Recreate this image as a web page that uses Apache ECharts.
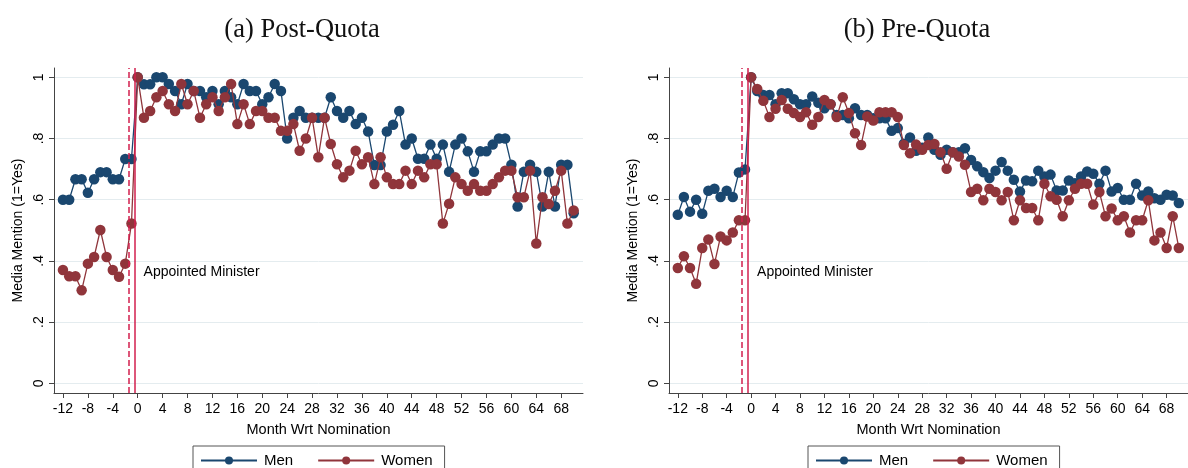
<!DOCTYPE html>
<html><head><meta charset="utf-8">
<script src="https://cdn.jsdelivr.net/npm/echarts@6/dist/echarts.min.js"></script>
<style>html,body{margin:0;padding:0;background:#fff}#c{width:1188px;height:468px}</style>
</head><body><div id="c"></div>
<script>
// ---------- data ----------
const monthStart = -12;
const xTicks = [-12,-8,-4,0,4,8,12,16,20,24,28,32,36,40,44,48,52,56,60,64,68];
const yTicks = [0,0.2,0.4,0.6,0.8,1];
const panelTitles = ['(a) Post-Quota', '(b) Pre-Quota'];
const seriesNames = ['Men', 'Women'];
const xAxisTitle = 'Month Wrt Nomination';
const yAxisTitle = 'Media Mention (1=Yes)';
const markerText = 'Appointed Minister';
const nominationMonth = -1.5;   // dashed line
const appointMonth = -0.5;      // solid line

// Post-Quota, months -12 .. 70
const postMen = [0.60,0.60,0.667,0.667,0.623,0.667,0.69,0.69,0.667,0.667,0.733,0.733,
  1.0,0.977,0.977,1.0,1.0,0.978,0.955,0.912,0.978,0.955,
  0.955,0.935,0.955,0.912,0.955,0.935,0.912,0.978,0.955,0.955,
  0.912,0.935,0.978,0.955,0.80,0.868,0.89,0.868,0.868,0.868,
  0.868,0.935,0.89,0.868,0.89,0.847,0.868,0.823,0.713,0.713,
  0.823,0.845,0.89,0.78,0.80,0.734,0.734,0.78,0.734,0.78,
  0.691,0.78,0.80,0.758,0.691,0.758,0.758,0.78,0.80,0.80,
  0.714,0.578,0.691,0.714,0.691,0.578,0.691,0.578,0.714,0.714,
  0.556];
const postWomen = [0.37,0.35,0.35,0.304,0.391,0.413,0.501,0.413,0.37,0.348,0.391,0.522,
  1.0,0.868,0.89,0.935,0.955,0.912,0.89,0.978,0.912,0.955,
  0.868,0.912,0.935,0.89,0.935,0.978,0.847,0.912,0.847,0.89,
  0.89,0.868,0.868,0.825,0.825,0.847,0.76,0.80,0.868,0.739,
  0.868,0.782,0.716,0.673,0.695,0.76,0.716,0.739,0.651,0.739,
  0.673,0.651,0.651,0.695,0.651,0.695,0.673,0.716,0.716,0.522,
  0.587,0.673,0.651,0.629,0.651,0.629,0.629,0.651,0.673,0.695,
  0.695,0.608,0.608,0.695,0.457,0.608,0.586,0.629,0.695,0.522,
  0.565];
// Pre-Quota, months -12 .. 70
const preMen = [0.551,0.609,0.561,0.60,0.554,0.629,0.636,0.609,0.629,0.609,0.689,0.699,
  1.0,0.955,0.942,0.942,0.912,0.948,0.948,0.928,0.912,0.912,
  0.937,0.917,0.899,0.912,0.877,0.877,0.866,0.899,0.877,0.877,
  0.866,0.866,0.866,0.825,0.834,0.783,0.803,0.76,0.77,0.803,
  0.763,0.747,0.763,0.755,0.755,0.768,0.730,0.709,0.690,0.671,
  0.695,0.723,0.695,0.665,0.627,0.663,0.660,0.695,0.676,0.682,
  0.630,0.630,0.663,0.654,0.676,0.692,0.685,0.652,0.695,0.627,
  0.638,0.60,0.60,0.652,0.614,0.627,0.605,0.60,0.616,0.614,
  0.589];
const preWomen = [0.377,0.415,0.377,0.325,0.442,0.47,0.39,0.48,0.467,0.493,0.533,0.533,
  1.0,0.962,0.923,0.87,0.897,0.926,0.897,0.883,0.87,0.886,
  0.845,0.87,0.926,0.912,0.87,0.935,0.883,0.817,0.779,0.872,
  0.859,0.886,0.886,0.886,0.87,0.779,0.752,0.78,0.763,0.779,
  0.782,0.755,0.701,0.755,0.741,0.714,0.625,0.636,0.598,0.636,
  0.625,0.598,0.625,0.533,0.598,0.573,0.573,0.533,0.652,0.611,
  0.60,0.546,0.598,0.636,0.652,0.652,0.584,0.625,0.546,0.571,
  0.533,0.546,0.493,0.533,0.533,0.598,0.467,0.493,0.442,0.546,
  0.442];

// ---------- styling ----------
const MEN_COLOR = '#1a476f';
const WOMEN_COLOR = '#90353b';
const VLINE_COLOR = '#d21f4e';
const SANS = '"Liberation Sans", Arial, Helvetica, sans-serif';
const SERIF = '"Liberation Serif", "Times New Roman", serif';

const panels = [
  {men: postMen, women: postWomen, gridLeft: 54, titleX: 297, legendLeft: 193},
  {men: preMen, women: preWomen, gridLeft: 669, titleX: 912, legendLeft: 808}
];

const toPairs = arr => arr.map((v, i) => [monthStart + i, v]);
const fmtY = v => (v === 0 ? '0' : v === 1 ? '1' : String(+v.toFixed(1)).replace(/^0\./, '.'));

const option = {
  animation: false,
  backgroundColor: '#ffffff',
  title: panels.map((p, i) => ({
    text: panelTitles[i], left: p.titleX, top: 12, textAlign: 'center',
    textStyle: {fontFamily: SERIF, fontSize: 26.5, fontWeight: 'normal', color: '#111'}
  })),
  legend: panels.map((p, i) => ({
    data: seriesNames.map(n => ({name: n})),
    left: p.legendLeft, top: 446,
    orient: 'horizontal',
    padding: [7, 12, 20, 7],
    itemWidth: 56, itemHeight: 10, itemGap: 24,
    borderColor: '#555', borderWidth: 1, borderRadius: 0,
    selectedMode: false,
    textStyle: {fontFamily: SANS, fontSize: 15, color: '#000', padding: [0, 0, 0, 2]}
  })),
  grid: panels.map(p => ({left: p.gridLeft, top: 68, width: 529, height: 325, containLabel: false})),
  xAxis: panels.map((p, i) => ({
    type: 'value', gridIndex: i, min: -13.44, max: 71.5,
    name: xAxisTitle, nameLocation: 'middle', nameGap: 29,
    nameTextStyle: {fontFamily: SANS, fontSize: 14.5, color: '#000'},
    axisLine: {show: true, onZero: false, lineStyle: {color: '#444', width: 1}},
    axisTick: {show: true, inside: false, length: 5, customValues: xTicks, lineStyle: {color: '#444'}},
    axisLabel: {show: true, customValues: xTicks, margin: 9, fontFamily: SANS, fontSize: 14, color: '#000',
      formatter: v => String(v)},
    splitLine: {show: false}
  })),
  yAxis: panels.map((p, i) => ({
    type: 'value', gridIndex: i, min: -0.0317, max: 1.0304,
    name: yAxisTitle, nameLocation: 'middle', nameGap: 29, nameRotate: 90,
    nameTextStyle: {fontFamily: SANS, fontSize: 14, color: '#000'},
    axisLine: {show: true, onZero: false, lineStyle: {color: '#444', width: 1}},
    axisTick: {show: true, inside: false, length: 5, customValues: yTicks, lineStyle: {color: '#444'}},
    axisLabel: {show: true, customValues: yTicks, rotate: 90, margin: 8, fontFamily: SANS, fontSize: 14, color: '#000',
      formatter: fmtY},
    splitLine: {show: true, lineStyle: {color: '#e4ecef', width: 1}}
  })),
  series: []
};

panels.forEach((p, i) => {
  option.series.push({
    name: seriesNames[0], type: 'line', xAxisIndex: i, yAxisIndex: i,
    data: toPairs(p.men), symbol: 'circle', symbolSize: 10.5, z: 3,
    itemStyle: {color: MEN_COLOR, borderWidth: 0},
    lineStyle: {color: MEN_COLOR, width: 1.3},
    markLine: {
      silent: true, symbol: 'none', label: {show: false},
      data: [
        {xAxis: nominationMonth, lineStyle: {color: VLINE_COLOR, type: [6, 3], width: 1.5}},
        {xAxis: appointMonth, lineStyle: {color: VLINE_COLOR, type: 'solid', width: 1.5}}
      ]
    }
  });
  option.series.push({
    name: seriesNames[1], type: 'line', xAxisIndex: i, yAxisIndex: i,
    data: toPairs(p.women), symbol: 'circle', symbolSize: 10.5, z: 4,
    itemStyle: {color: WOMEN_COLOR, borderWidth: 0},
    lineStyle: {color: WOMEN_COLOR, width: 1.3},
    markPoint: {
      silent: true, symbol: 'circle', symbolSize: 0,
      data: [{coord: [appointMonth, 0.363], value: markerText}],
      label: {show: true, position: 'right', distance: 9, formatter: markerText,
        fontFamily: SANS, fontSize: 14, color: '#000'}
    }
  });
});

const chart = echarts.init(document.getElementById('c'), null, {renderer: 'canvas'});
chart.setOption(option);
</script>
</body></html>
